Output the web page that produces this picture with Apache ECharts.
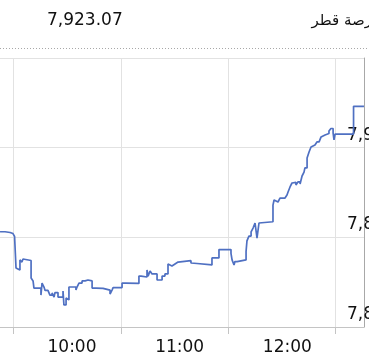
<!DOCTYPE html>
<html>
<head>
<meta charset="utf-8">
<script src="https://cdn.jsdelivr.net/npm/echarts@6/dist/echarts.min.js"></script>
<style>
html,body{margin:0;padding:0;background:#fff;}
#chart{width:369px;height:361px;}
</style>
</head>
<body>
<div id="chart"></div>
<script>
// Time in minutes after 09:00, and index level (step series)
const minutes = [19.9,22.7,25.5,27.1,28.0,28.8,29.9,31.0,32.1,32.7,33.3,37.2,38.3,38.8,42.7,43.3,44.4,45.0,46.6,47.7,48.9,50.0,50.5,52.2,55.0,55.5,56.7,57.8,58.3,62.2,62.8,63.9,65.6,67.3,68.9,70.0,71.2,73.4,77.3,81.2,82.3,82.9,87.9,90.1,90.7,97.3,98.5,101.8,102.4,103.5,104.6,107.4,110.2,111.8,113.5,114.6,115.7,117.4,119.1,126.3,127.4,129.7,138.0,140.3,140.8,141.9,143.6,144.7,148.6,149.2,150.3,150.8,152.0,157.0,157.5,158.6,159.8,160.9,162.0,163.1,163.7,164.2,164.8,172.0,172.6,173.7,174.8,175.4,175.9,178.7,179.8,180.4,181.5,182.6,183.7,184.8,185.9,187.1,188.2,189.3,189.8,191.0,192.1,193.2,194.3,195.4,196.5,197.7,198.8,199.9,201.0,202.1,203.2,204.3,205.5,206.0,206.6,216.9,222.7];
const values = [7853.1,7852.7,7852.1,7851.0,7850.5,7832.9,7831.8,7837.4,7836.2,7837.9,7837.1,7827.3,7825.7,7821.7,7817.8,7824.5,7822.3,7820.4,7820.6,7817.8,7819.0,7816.7,7819.2,7816.7,7820.1,7812.3,7816.2,7815.1,7822.3,7820.6,7822.3,7824.5,7825.7,7826.2,7826.8,7825.7,7821.7,7821.5,7820.6,7818.4,7820.6,7822.0,7824.5,7823.4,7824.3,7828.4,7827.9,7831.8,7828.4,7831.2,7829.6,7826.2,7828.4,7829.6,7835.1,7834.0,7835.1,7836.2,7837.0,7835.7,7835.4,7834.6,7838.5,7837.4,7838.5,7843.2,7844.1,7843.2,7841.0,7837.4,7834.6,7836.5,7837.4,7842.1,7848.0,7850.7,7853.0,7855.2,7858.0,7849.6,7848.5,7858.0,7858.7,7868.0,7870.8,7869.7,7870.8,7869.1,7871.9,7872.8,7873.6,7875.3,7878.1,7880.3,7880.6,7879.2,7880.9,7879.7,7884.2,7886.4,7888.7,7894.2,7897.6,7900.4,7901.5,7902.3,7903.2,7904.3,7906.0,7907.1,7906.2,7907.9,7909.3,7910.7,7908.2,7904.3,7907.6,7923.07,7923.07];

// Axis marks
const gridMinutes = [27.2, 87.2, 147.0, 206.8];
const hourLabelMinutes = [60, 120, 180];
const yTicks = [7800, 7850, 7900, 7950];
const title = 'بورصة قطر';

const xMin = 19.88, xMax = 222.72;

function fmtTime(m) {
  const h = 9 + Math.floor(m / 60);
  const mm = Math.round(m % 60);
  return h + ':' + (mm < 10 ? '0' : '') + mm;
}
function fmtNum(v, d) {
  return v.toLocaleString('en-US', {minimumFractionDigits: d, maximumFractionDigits: d});
}

const chart = echarts.init(document.getElementById('chart'), null, {renderer: 'canvas'});
const FONT = 'DejaVu Sans';
chart.setOption({
  animation: false,
  backgroundColor: '#fff',
  textStyle: {fontFamily: FONT},
  grid: {left: 0, right: 5, top: 58, bottom: 34, containLabel: false, outerBoundsMode: 'none'},
  xAxis: {
    type: 'value',
    min: xMin, max: xMax,
    axisLine: {show: true, lineStyle: {color: '#c4c4c4', width: 1}},
    axisTick: {show: true, length: 7, customValues: gridMinutes, lineStyle: {color: '#c4c4c4'}},
    splitLine: {show: true, lineStyle: {color: '#e2e2e2', width: 1}},
    axisLabel: {
      customValues: hourLabelMinutes,
      formatter: v => fmtTime(v),
      fontSize: 17, color: '#111', fontFamily: FONT, margin: 12
    }
  },
  yAxis: {
    type: 'value',
    position: 'right',
    min: yTicks[0], max: yTicks[yTicks.length - 1], interval: 50,
    axisLine: {show: true, lineStyle: {color: '#a8a8a8', width: 1}},
    axisTick: {show: false},
    splitLine: {show: true, lineStyle: {color: '#e2e2e2', width: 1}},
    axisLabel: {
      showMaxLabel: false,
      inside: false,
      margin: -17,
      align: 'left',
      verticalAlign: 'bottom',
      padding: [0, 0, 4, 0],
      fontSize: 17, color: '#111', fontFamily: FONT,
      formatter: v => fmtNum(v, 0)
    }
  },
  graphic: [
    {type: 'line', shape: {x1: 0, y1: 48.5, x2: 369, y2: 48.5}, style: {stroke: '#a8a8a8', lineWidth: 1, lineDash: [1, 2]}, silent: true},
    {type: 'text', x: 47, y: 21, style: {text: fmtNum(values[values.length - 1], 2), font: '17px "DejaVu Sans"', fill: '#111', textVerticalAlign: 'middle', textAlign: 'left'}},
    {type: 'text', x: 384, y: 21, style: {text: title, font: '15px "DejaVu Sans"', fill: '#111', textVerticalAlign: 'middle', textAlign: 'right'}}
  ],
  series: [{
    type: 'line',
    step: 'end',
    showSymbol: false,
    data: minutes.map((m, i) => [m, values[i]]),
    lineStyle: {color: '#4f70c2', width: 1.7},
    clip: true
  }]
});
</script>
</body>
</html>
